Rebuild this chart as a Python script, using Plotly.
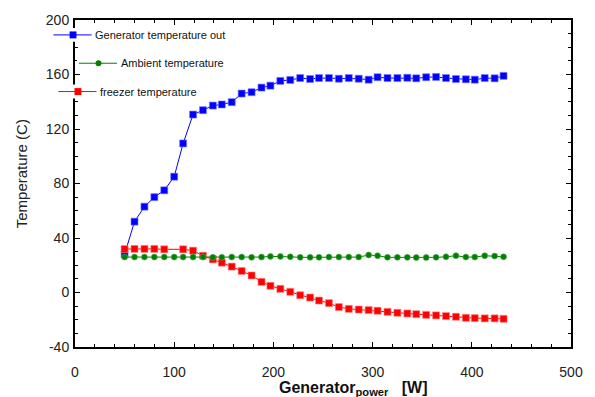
import plotly.graph_objects as go

# ---- data ----
power = [50, 60, 70, 80, 90, 100, 109, 119, 129, 139, 148, 158, 168, 178, 188, 197,
         207, 217, 227, 237, 246, 256, 266, 276, 286, 296, 305, 315, 325, 335, 344,
         354, 364, 374, 384, 394, 403, 413, 423, 432]

gen_out = [28, 52, 63, 70, 75, 85, 109.4, 130.6, 133.8, 137.2, 138, 139.7, 146, 147,
           150.4, 151.8, 155.3, 156, 157.4, 156.7, 157.4, 157.4, 156.9, 157.4, 156.9,
           156.2, 158, 157.4, 157.4, 157.6, 157.2, 158, 158.2, 157.4, 156.7, 156.5,
           156.2, 157.4, 157.2, 159]

ambient = [26, 26, 26, 26, 26, 26, 26, 26, 26, 25.8, 25.8, 26, 26, 25.8, 26, 26.5,
           26.5, 26.2, 25.8, 25.8, 25.8, 26, 26, 26, 26, 27.5, 27, 25.8, 25.8, 25.8,
           25.6, 25.6, 25.8, 26.2, 27, 26, 26, 27, 26.7, 26.2]

# freezer: no reading at 100 W
freezer_power = [50, 60, 70, 80, 90, 109, 119, 129, 139, 148, 158, 168, 178, 188, 197,
                 207, 217, 227, 237, 246, 256, 266, 276, 286, 296, 305, 315, 325, 335,
                 344, 354, 364, 374, 384, 394, 403, 413, 423, 432]
freezer = [31.9, 32, 32, 32, 31.7, 31.7, 30.7, 27, 24.3, 21.9, 19, 15.8, 12.5, 7.8,
           4.9, 2.7, 0.5, -2, -3.7, -5.9, -7.8, -10.7, -12, -12.5, -12.9, -13.4, -14.2,
           -14.9, -15.4, -15.9, -16.4, -16.8, -17.3, -17.8, -18.6, -18.8, -19, -19, -19.3]

series_names = ["Generator temperature out", "Ambient temperature", "freezer temperature"]
series_colors = ["#0000ff", "#008000", "#ff0000"]

x_ticks = [0, 100, 200, 300, 400, 500]
y_ticks = [-40, 0, 40, 80, 120, 160, 200]

FONT = "Arial, Liberation Sans, sans-serif"

fig = go.Figure()

fig.add_trace(go.Scatter(
    x=power, y=gen_out, mode="lines+markers", name=series_names[0],
    line=dict(color=series_colors[0], width=1),
    marker=dict(symbol="square", size=7, color=series_colors[0],
                line=dict(color="rgba(120,120,255,0.6)", width=1)),
))
fig.add_trace(go.Scatter(
    x=freezer_power, y=freezer, mode="lines+markers", name=series_names[2],
    line=dict(color=series_colors[2], width=1),
    marker=dict(symbol="square", size=7, color=series_colors[2],
                line=dict(color="rgba(255,130,130,0.6)", width=1)),
))
fig.add_trace(go.Scatter(
    x=power, y=ambient, mode="lines+markers", name=series_names[1],
    line=dict(color=series_colors[1], width=1),
    marker=dict(symbol="circle", size=6, color=series_colors[1],
                line=dict(color="rgba(90,170,90,0.6)", width=1)),
))

# ---- layout geometry (pixels) ----
W, H = 595, 397
ML, MR, MT, MB = 75, 13, 18, 50
PW, PH = W - ML - MR, H - MT - MB


def px(xp):
    return (xp - ML) / PW


def py(yp):
    return 1 - (yp - MT) / PH


axis_common = dict(
    showline=True, linecolor="black", linewidth=2, mirror="allticks",
    ticks="inside", ticklen=5, tickwidth=1, tickcolor="black",
    showgrid=False, zeroline=False,
    tickfont=dict(family=FONT, size=14, color="#222222"),
)

fig.update_layout(
    width=W, height=H,
    margin=dict(l=ML, r=MR, t=MT, b=MB, pad=0),
    paper_bgcolor="white", plot_bgcolor="white",
    showlegend=False,
    xaxis=dict(range=[0, 500], tickvals=x_ticks, ticktext=[str(v) for v in x_ticks],
               ticklabelstandoff=11,
               minor=dict(dtick=20, tick0=0, ticks="inside", ticklen=3, tickcolor="black"),
               **axis_common),
    yaxis=dict(range=[-40, 200], tickvals=y_ticks, ticktext=[str(v) for v in y_ticks],
               ticklabelstandoff=1,
               minor=dict(dtick=10, tick0=0, ticks="inside", ticklen=3, tickcolor="black"),
               **axis_common),
)

# ---- custom staggered legend (decoration) ----
legend_rows = [
    # (line x0, line x1, marker x, y, text x, text box end, symbol)
    (53, 92, 73, 33, 93, 232, "square"),
    (79, 118, 99, 61.5, 120, 230, "circle"),
    (58, 97, 78, 90, 99, 203, "square"),
]
order = [0, 1, 2]
shapes = []
annotations = []
for (x0, x1, mx, yy, tx, tend, sym), idx in zip(legend_rows, order):
    col = series_colors[idx]
    shapes.append(dict(type="rect", xref="paper", yref="paper", layer="above",
                       x0=px(x0 - 2), x1=px(tend), y0=py(yy + 7), y1=py(yy - 7),
                       fillcolor="white", line=dict(width=0)))
    shapes.append(dict(type="line", xref="paper", yref="paper", layer="above",
                       x0=px(x0), x1=px(x1), y0=py(yy), y1=py(yy),
                       line=dict(color=col, width=1)))
    s = 3.5 if sym == "square" else 3
    shapes.append(dict(type="rect" if sym == "square" else "circle",
                       xref="paper", yref="paper", layer="above",
                       x0=px(mx - s), x1=px(mx + s), y0=py(yy + s), y1=py(yy - s),
                       fillcolor=col, line=dict(width=0)))
    annotations.append(dict(text=series_names[idx], xref="paper", yref="paper",
                            x=px(tx), y=py(yy), xanchor="left", yanchor="middle",
                            showarrow=False,
                            font=dict(family=FONT, size=11, color="#111111")))

# axis titles
annotations.append(dict(text="Temperature (C)", xref="paper", yref="paper",
                        x=px(20), y=py(173), xanchor="center", yanchor="middle",
                        textangle=-90, showarrow=False,
                        font=dict(family=FONT, size=15, color="#222222")))
annotations.append(dict(text="<b>Generator<sub>power</sub>   [W]</b>", xref="paper", yref="paper",
                        x=px(360), y=py(388.5), xanchor="center", yanchor="middle",
                        showarrow=False,
                        font=dict(family=FONT, size=16, color="#111111")))

fig.update_layout(shapes=shapes, annotations=annotations)

fig.write_html("out.html")
